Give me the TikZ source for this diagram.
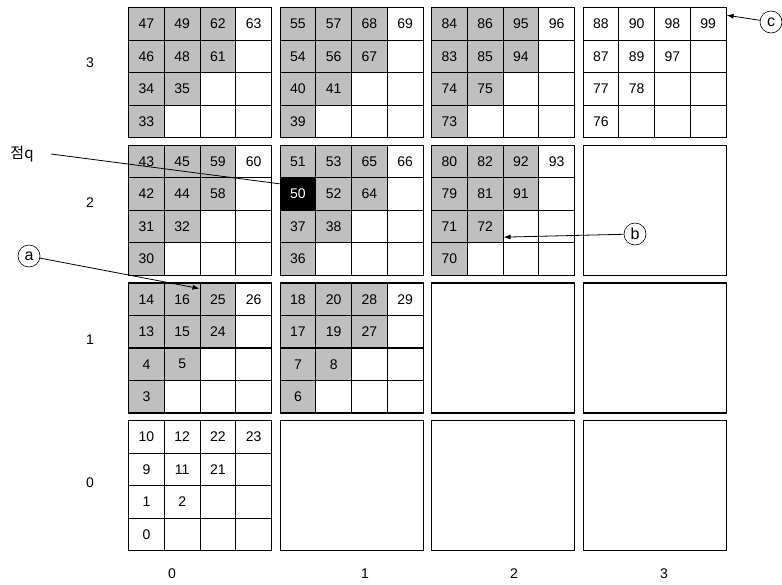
\documentclass[tikz,border=0pt]{standalone}
\usepackage{fontspec}
\setmainfont{Liberation Sans}
\newfontfamily\korfont{Noto Sans CJK KR}
\usetikzlibrary{arrows.meta}
\begin{document}
\begin{tikzpicture}[x=1pt, y=-1pt, line width=1.1pt,
    cellbox/.style={draw, anchor=north west, inner sep=0pt,
      minimum width=35.75pt, minimum height=32.5pt,
      font=\fontsize{14}{16}\selectfont},
    tone0/.style={fill=white},
    tone1/.style={fill=gray!50},
    blockbox/.style={draw, anchor=north west, inner sep=0pt,
      minimum width=143pt, minimum height=130pt},
    axislabel/.style={font=\fontsize{14}{16}\selectfont},
    tag/.style={circle, draw, line width=0.6pt, inner sep=0.8pt,
      minimum size=22pt, font=\fontsize{16}{18}\selectfont},
    pointer/.style={-{Latex[length=7pt, width=5pt]}, line width=0.8pt}]
    \useasboundingbox (0,0) rectangle (782,584);
    % Bloques vacíos
    \foreach \c/\r in {3/2, 2/1, 3/1, 1/0, 2/0, 3/0}
        \node[blockbox] (b\c\r) at ({128+151.5*\c},{7+137.7*(3-\r)}) {};
    % Bloques con celdas numeradas
    \foreach \c/\r/\s/\nums in {
        0/3/1/{47,49,62,63,46,48,61,34,35,33},
        1/3/1/{55,57,68,69,54,56,67,40,41,39},
        2/3/1/{84,86,95,96,83,85,94,74,75,73},
        3/3/0/{88,90,98,99,87,89,97,77,78,76},
        0/2/1/{43,45,59,60,42,44,58,31,32,30},
        1/2/1/{51,53,65,66,50,52,64,37,38,36},
        2/2/1/{80,82,92,93,79,81,91,71,72,70},
        0/1/1/{14,16,25,26,13,15,24,4,5,3},
        1/1/1/{18,20,28,29,17,19,27,7,8,6},
        0/0/0/{10,12,22,23,9,11,21,1,2,0}} {
        \foreach \i in {0,...,3}
            \foreach \j in {0,...,3}
                \node[cellbox] (g\c\r\i\j)
                    at ({128+151.5*\c+35.75*\i},{7+137.7*(3-\r)+32.5*\j}) {};
        \foreach \n [count=\k from 0] in \nums {
            \pgfmathtruncatemacro\i{{0,1,2,3,0,1,2,0,1,0}[\k]}
            \pgfmathtruncatemacro\j{{0,0,0,0,1,1,1,2,2,3}[\k]}
            \pgfmathtruncatemacro\f{(\k==3 || \s==0) ? 0 : 1}
            \node[cellbox, tone\f] (n\n)
                at ({128+151.5*\c+35.75*\i},{7+137.7*(3-\r)+32.5*\j}) {\n};
        }
    }
    % Punto q
    \node[cellbox, fill=black, text=white] (pt) at (n50.north west) {50};
    % Etiquetas de filas y columnas
    \foreach \r/\y in {3/63, 2/203, 1/340, 0/483}
        \node[axislabel] (row\r) at (90,\y) {\r};
    \foreach \c/\x in {0/172, 1/365, 2/514, 3/664}
        \node[axislabel] (col\c) at (\x,574) {\c};
    % Anotaciones
    \node[font=\fontsize{15}{17}\selectfont, inner sep=1pt] (ql) at (22,154) {\korfont 점q};
    \node[tag] (ta) at (29,256) {a};
    \node[tag] (tb) at (635,234) {b};
    \node[tag] (tc) at (771,22) {c};
    \draw[line width=0.8pt] (ql.east) ++(16,0) -- (pt.151);
    \draw[pointer] (ta) -- (n25.150);
    \draw[pointer] (tb) -- (n72.-30);
    \draw[pointer] (tc) -- (n99.25);
\end{tikzpicture}
\end{document}
